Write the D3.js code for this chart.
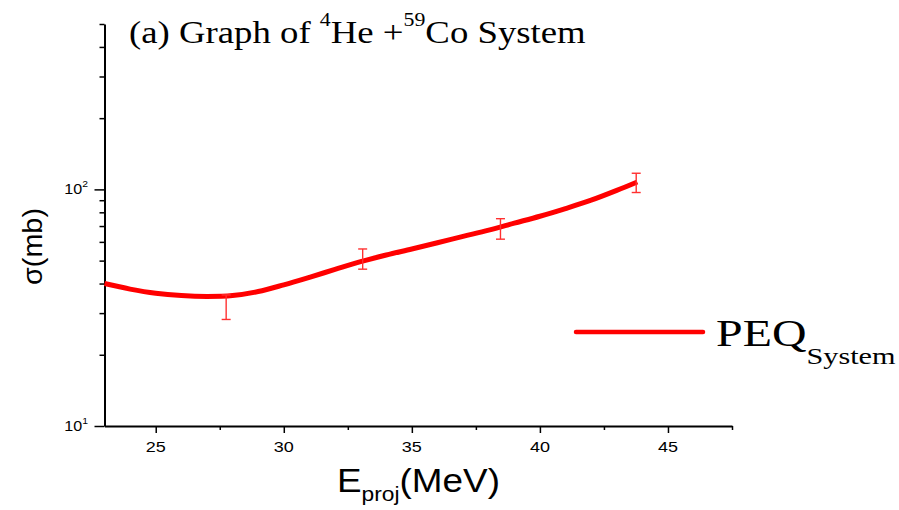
<!DOCTYPE html>
<html><head><meta charset="utf-8">
<script src="https://cdn.jsdelivr.net/npm/d3@7"></script>
<style>body{margin:0;background:#fff}</style>
</head><body><svg id="c" width="899" height="510"></svg>
<script>
// ---- data ----
const energies = [23, 24, 25, 26, 27, 28, 29, 30, 31, 32, 33, 34, 35, 36, 37, 38, 39, 40, 41, 42, 43, 43.8];
const sigmaPEQ = [40, 37.9, 36.4, 35.6, 35.3, 35.6, 37.0, 39.5, 42.5, 45.9, 49.5, 52.8, 56.0, 59.5, 63.3, 67.3, 72.0, 77.0, 83.0, 90.0, 99.0, 107.5];
const expEnergy = [27.75, 33.08, 38.46, 43.76];
const expSigma = [32, 51, 68.4, 107];
const expError = [3.8, 5, 6.8, 10];
const xMajorTicks = [25, 30, 35, 40, 45];
const xMinorTicks = [27.5, 32.5, 37.5, 42.5, 47.5];
const yMajorTicks = [10, 100];
const yMajorExp = ["1", "2"];
const yMinorTicks = [20, 30, 40, 50, 60, 70, 80, 90, 200, 300, 400, 500];

const SANS = "'Liberation Sans', Arial, sans-serif";
const SERIF = "'Liberation Serif', 'Times New Roman', serif";

const svg = d3.select('#c');
const x = d3.scaleLinear().domain([23, 47.5]).range([104.5, 732]);
const y = d3.scaleLog().domain([10, 500]).range([426, 24]);

function richText(parent, parts, o) {
  const g = parent.append('g');
  const t = g.append('text').attr('text-anchor', o.anchor || 'start')
    .attr('font-family', o.family).attr('font-size', o.size).attr('fill', '#000');
  parts.forEach(p => t.append('tspan').text(p.t).attr('font-size', p.size || o.size).attr('dy', p.dy || 0));
  let sx = o.sx || 1;
  if (o.fit) sx = o.fit / t.node().getBBox().width;
  g.attr('transform', `translate(${o.x},${o.y})` + (o.rotate ? ` rotate(${o.rotate})` : '') + ` scale(${sx},1)`);
  return g;
}

// ---- axes ----
const axX = svg.append('g').attr('transform', 'translate(0,426)');
axX.call(d3.axisBottom(x).tickValues(xMajorTicks).tickSize(7).tickSizeOuter(0).tickFormat(''));
const axXm = svg.append('g').attr('transform', 'translate(0,426)');
axXm.call(d3.axisBottom(x).tickValues(xMinorTicks).tickSize(4).tickSizeOuter(0).tickFormat(''));
axXm.select('.domain').remove();

const axY = svg.append('g').attr('transform', 'translate(104.5,0)');
axY.call(d3.axisLeft(y).tickValues(yMajorTicks).tickSize(10).tickSizeOuter(0).tickFormat(''));
const axYm = svg.append('g').attr('transform', 'translate(104.5,0)');
axYm.call(d3.axisLeft(y).tickValues(yMinorTicks).tickSize(5).tickSizeOuter(0).tickFormat(''));
axYm.select('.domain').remove();

svg.selectAll('.domain').attr('stroke', '#000').attr('stroke-width', 2);
svg.selectAll('.tick line').attr('stroke', '#000').attr('stroke-width', 1.5);

// tick labels
xMajorTicks.forEach(v => richText(svg, [{t: String(v)}], {x: x(v), y: 452, anchor: 'middle', family: SANS, size: 15, sx: 1.2}));
yMajorTicks.forEach((v, i) => richText(svg, [{t: '10'}, {t: yMajorExp[i], size: 9, dy: -7}],
  {x: 88, y: y(v) + 5, anchor: 'end', family: SANS, size: 14, sx: 1.15}));

// axis titles
richText(svg, [{t: 'E'}, {t: 'proj', size: 21, dy: 9}, {t: '(MeV)', dy: -9}],
  {x: 337, y: 492, family: SANS, size: 34, fit: 163});
richText(svg, [{t: 'σ(mb)'}], {x: 42, y: 246.5, anchor: 'middle', family: SANS, size: 28, rotate: -90, fit: 77});

// title
richText(svg, [{t: '(a) Graph of '}, {t: '4', size: 19, dy: -17}, {t: 'He +', dy: 17}, {t: '59', size: 19, dy: -17}, {t: 'Co System', dy: 17}],
  {x: 129, y: 43, family: SERIF, size: 32, fit: 457});

// ---- marks ----
const line = d3.line().x((d, i) => x(energies[i])).y(d => y(d)).curve(d3.curveCatmullRom);
svg.append('path').datum(sigmaPEQ).attr('d', line).attr('fill', 'none')
  .attr('stroke', '#ff0000').attr('stroke-width', 5).attr('stroke-linejoin', 'round');

const eb = svg.append('g').attr('stroke', '#ff3030').attr('stroke-width', 1.4).attr('fill', 'none');
expEnergy.forEach((e, i) => {
  const cx = x(e), y1 = y(expSigma[i] + expError[i]), y0 = y(expSigma[i] - expError[i]);
  eb.append('line').attr('x1', cx).attr('x2', cx).attr('y1', y1).attr('y2', y0);
  eb.append('line').attr('x1', cx - 4.5).attr('x2', cx + 4.5).attr('y1', y1).attr('y2', y1);
  eb.append('line').attr('x1', cx - 4.5).attr('x2', cx + 4.5).attr('y1', y0).attr('y2', y0);
});

// ---- legend ----
svg.append('line').attr('x1', 576).attr('x2', 703).attr('y1', 332).attr('y2', 332)
  .attr('stroke', '#ff0000').attr('stroke-width', 4.5).attr('stroke-linecap', 'round');
richText(svg, [{t: 'PEQ'}, {t: 'System', size: 24, dy: 18}],
  {x: 716, y: 346, family: SERIF, size: 38, fit: 180});
</script></body></html>
